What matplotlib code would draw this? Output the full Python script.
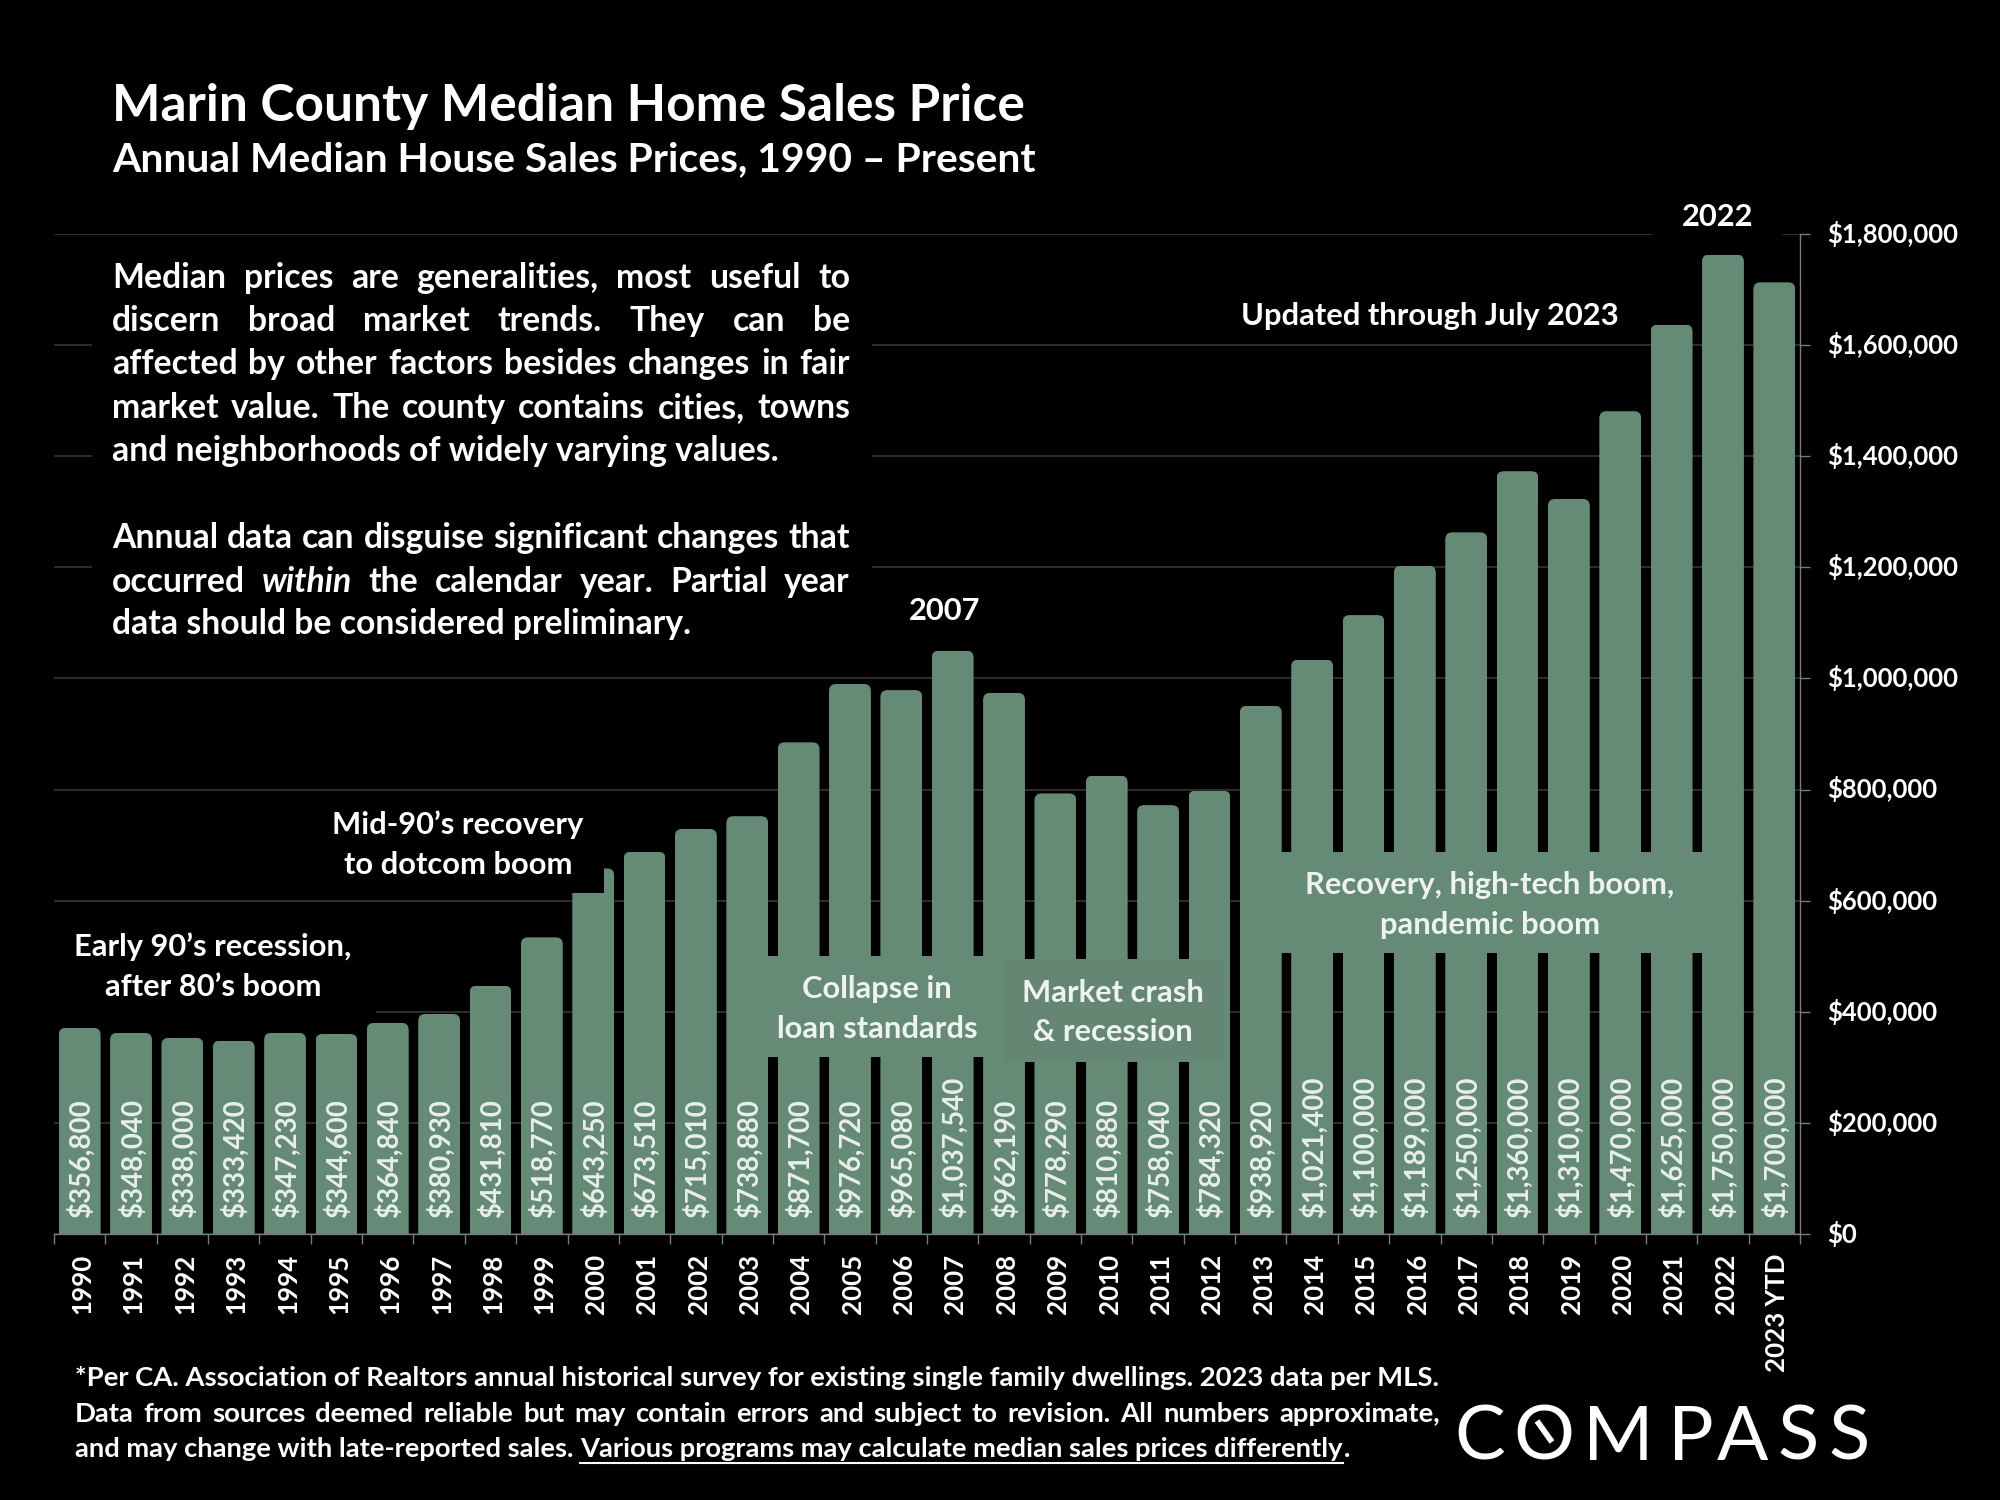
import matplotlib
matplotlib.use("Agg")
import matplotlib.pyplot as plt
from matplotlib.lines import Line2D
from matplotlib.patches import Rectangle
from matplotlib.path import Path
from matplotlib.transforms import Affine2D, ScaledTranslation

W, H = 2000, 1500
FONT = "Lato"
BG = "#000000"
BAR = "#658A75"
GRID = "#3A3A3A"
AXIS = "#7A7A7A"

categories = [str(y) for y in range(1990, 2023)] + ["2023 YTD"]
# printed data labels
label_values = [356800, 348040, 338000, 333420, 347230, 344600, 364840, 380930,
                431810, 518770, 643250, 673510, 715010, 738880, 871700, 976720,
                965080, 1037540, 962190, 778290, 810880, 758040, 784320, 938920,
                1021400, 1100000, 1189000, 1250000, 1360000, 1310000, 1470000,
                1625000, 1750000, 1700000]
# bar heights
bar_heights = [371000, 362000, 353000, 348000, 362000, 360000, 380000, 396000,
               447000, 534000, 658000, 688000, 729000, 752000, 885000, 990000,
               979000, 1050000, 974000, 793000, 825000, 772000, 798000, 951000,
               1034000, 1114000, 1203000, 1263000, 1373000, 1323000, 1481000,
               1637000, 1763000, 1713000]
y_ticks = [0, 200000, 400000, 600000, 800000, 1000000, 1200000, 1400000, 1600000, 1800000]

title = "Marin County Median Home Sales Price"
subtitle = "Annual Median House Sales Prices, 1990 \u2013 Present"
para_lines = [
    ("Median prices are generalities, most useful to", True),
    ("discern broad market trends. They can be", True),
    ("affected by other factors besides changes in fair", True),
    ("market value. The county contains cities, towns", True),
    ("and neighborhoods of widely varying values.", False),
    ("Annual data can disguise significant changes that", True),
    ("occurred *within the calendar year. Partial year", True),
    ("data should be considered preliminary.", False),
]
para_baselines = [287, 330, 373, 417, 460, 547, 591, 633]
foot1 = "*Per CA. Association of Realtors annual historical survey for existing single family dwellings. 2023 data per MLS."
foot2 = "Data from sources deemed reliable but may contain errors and subject to revision. All numbers approximate,"
foot3a = "and may change with late-reported sales. "
foot3b = "Various programs may calculate median sales prices differently"
foot3c = "."
logo_letters = list("COMPASS")
logo_centers = [1480, 1544, 1618, 1691, 1743, 1798, 1849]

plt.rcParams["font.family"] = [FONT, "DejaVu Sans"]
fig = plt.figure(figsize=(W / 100, H / 100), dpi=100, facecolor=BG)
ax = fig.add_axes([54 / W, 1 - 1234 / H, (1800 - 54) / W, 1000 / H], facecolor=BG)
renderer = fig.canvas.get_renderer()
pix = Affine2D().scale(1 / W, -1 / H).translate(0, 1) + fig.transFigure


def width(s, **kw):
    t = fig.text(0, 0, s, **kw)
    w = t.get_window_extent(renderer).width
    t.remove()
    return w


def fit(s, px, **kw):
    return 20 * px / width(s, fontsize=20, **kw)


def put(x, y, s, **kw):
    kw.setdefault("color", "white")
    kw.setdefault("va", "baseline")
    kw.setdefault("zorder", 10)
    return fig.text(x, y + 1, s, transform=pix, **kw)


def justified(line, x0, x1, y, size, weight):
    words = line.split(" ")
    styles = []
    clean = []
    for w in words:
        if w.startswith("*") and len(clean) > 0:
            styles.append("italic")
            clean.append(w[1:])
        else:
            styles.append("normal")
            clean.append(w)
    ws = [width(w, fontsize=size, fontweight=weight, fontstyle=st) for w, st in zip(clean, styles)]
    gap = (x1 - x0 - sum(ws)) / (len(ws) - 1)
    x = x0
    for w, st, wd in zip(clean, styles, ws):
        put(x, y, w, fontsize=size, fontweight=weight, fontstyle=st)
        x += wd + gap


x = list(range(len(categories)))
ax.set_xlim(-0.5, len(categories) - 0.5)
ax.set_ylim(0, 1800000)

bars = ax.bar(x, bar_heights, width=0.815, color=BAR, zorder=2, linewidth=0)
rx, ry = 7 / 51.35, 7 * 1800
for b in bars:
    l, r, t = b.get_x(), b.get_x() + b.get_width(), b.get_height()
    p = Path(
        [(l, 0), (l, t - ry), (l, t), (l + rx, t), (r - rx, t), (r, t), (r, t - ry), (r, 0), (l, 0)],
        [Path.MOVETO, Path.LINETO, Path.CURVE3, Path.CURVE3, Path.LINETO, Path.CURVE3, Path.CURVE3,
         Path.LINETO, Path.CLOSEPOLY],
    )
    b.set_clip_path(p, ax.transData)

val_size = fit("$356,800", 119, fontweight="bold")
for i, v in enumerate(label_values):
    ax.annotate(f"${v:,}", xy=(i, 0), xytext=(1, 11.5), textcoords="offset points",
                rotation=90, ha="center", va="bottom", color="#E8EFEA", fontweight="bold",
                fontsize=val_size, zorder=8, annotation_clip=False)

ax.yaxis.tick_right()
ax.set_yticks(y_ticks)
ax.set_yticklabels([f"${v:,}" for v in y_ticks], color="white", va="center_baseline",
                   fontsize=fit("$1,800,000", 132, fontweight="bold"), fontweight="bold")
ax.set_xticks(x)
ax.set_xticklabels(categories, rotation=90, color="white", ha="center", va="top",
                   fontsize=fit("1990", 60, fontweight="bold"), fontweight="bold")
ax.set_xticks([i - 0.5 for i in range(len(categories) + 1)], minor=True)
ax.tick_params(axis="x", which="major", length=0, pad=14.4)
ax.tick_params(axis="x", which="minor", length=7.2, width=1, color=AXIS)
ax.tick_params(axis="y", which="major", length=7.2, width=1, color=AXIS, pad=12)
shift_x = ScaledTranslation(2 / 72, 0, fig.dpi_scale_trans)
for lab in ax.get_xticklabels():
    lab.set_transform(lab.get_transform() + shift_x)
shift_y = ScaledTranslation(0, 1.5 / 72, fig.dpi_scale_trans)
for lab in ax.get_yticklabels():
    lab.set_transform(lab.get_transform() + shift_y)
ax.yaxis.grid(True, color=GRID, linewidth=1.1, zorder=1)
ax.set_axisbelow(True)
for side in ("top", "left"):
    ax.spines[side].set_visible(False)
for side in ("right", "bottom"):
    ax.spines[side].set_color(AXIS)
    ax.spines[side].set_linewidth(1)


def cover(x0, y0, x1, y1, color):
    fig.add_artist(Rectangle((x0, y1), x1 - x0, y0 - y1, transform=pix, facecolor=color,
                             edgecolor="none", zorder=4))


cover(92, 240, 872, 650, BG)        # explanatory text
cover(1653, 200, 1782, 245, BG)     # 2022 label
cover(325, 800, 604, 893, BG)       # mid-90's label
cover(50, 925, 376, 1018, BG)       # early-90's label
cover(766, 956, 985, 1057, BAR)
cover(1003, 959, 1224, 1062, "#658672")
cover(1270, 852, 1715, 953, BAR)

put(112, 120, title, fontsize=fit(title, 911, fontweight="bold"), fontweight="bold")
put(112, 170, subtitle, fontsize=fit(subtitle, 926, fontweight="bold"), fontweight="bold")

para_size = fit(para_lines[4][0], 667, fontweight="bold")
for (line, just), y in zip(para_lines, para_baselines):
    if just:
        justified(line, 112, 850, y, para_size, "bold")
    else:
        put(112, y, line, fontsize=para_size, fontweight="bold")

ann = fit("Early 90\u2019s recession,", 277, fontweight="bold")
for cx, y, s, c in [
    (213, 955, "Early 90\u2019s recession,", "white"), (213, 995, "after 80\u2019s boom", "white"),
    (458, 833, "Mid-90\u2019s recovery", "white"), (458, 873, "to dotcom boom", "white"),
    (877, 997, "Collapse in", "#EEF3F0"), (877, 1037, "loan standards", "#EEF3F0"),
    (1113, 1001, "Market crash", "#EEF3F0"), (1113, 1040, "& recession", "#EEF3F0"),
    (1490, 893, "Recovery, high-tech boom,", "#EEF3F0"), (1490, 933, "pandemic boom", "#EEF3F0"),
    (1430, 324, "Updated through July 2023", "white"),
    (945, 619, "2007", "white"), (1718, 225, "2022", "white"),
]:
    put(cx, y, s, ha="center", fontsize=ann, fontweight="bold", color=c)

foot_size = fit(foot1, 1365, fontweight="bold")
put(75, 1385, foot1, fontsize=foot_size, fontweight="bold")
justified(foot2, 75, 1440, 1421, foot_size, "bold")
size3 = foot_size * 0.996
xa = 75
put(xa, 1456, foot3a, fontsize=size3, fontweight="bold")
xb = xa + width(foot3a.strip(), fontsize=size3, fontweight="bold") + 0.22 * size3 * 100 / 72 + 1
put(xb, 1456, foot3b, fontsize=size3, fontweight="bold")
wb = width(foot3b, fontsize=size3, fontweight="bold")
fig.add_artist(Line2D([xb, xb + wb], [1463, 1463], transform=pix, color="white", lw=1.5, zorder=10))
put(xb + wb + 1, 1456, foot3c, fontsize=size3, fontweight="bold")

logo_size = 76 * 72 / 100
for ch, cx in zip(logo_letters, logo_centers):
    put(cx, 1459, ch, fontsize=logo_size, fontweight="normal", ha="center")
fig.add_artist(Line2D([1537, 1552], [1421, 1442], transform=pix, color="white", lw=4.2,
                      solid_capstyle="butt", zorder=11))

fig.savefig("out.png", dpi=100, facecolor=BG)
